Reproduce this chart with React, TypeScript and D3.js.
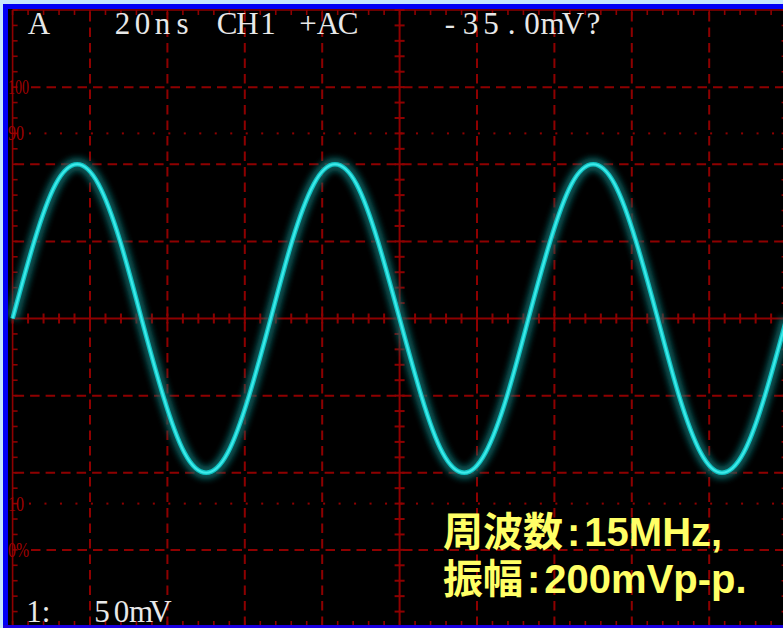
import React from 'react';
import * as d3 from 'd3';

const W = 783;
const H = 628;

// Oscilloscope settings: 20 ns/div × 10 div, 50 mV/div × 8 div
const timeDomain: [number, number] = [0, 200];
const voltDomain: [number, number] = [-200, 200];

// Trace samples (ns, mV)
const sampleTimes = [
  0, 5.6, 11.1, 16.7, 22.2, 27.8, 33.3, 38.9, 44.4, 50, 55.6, 61.1,
  66.7, 72.2, 77.8, 83.3, 88.9, 94.4, 100, 105.6, 111.1, 116.7, 122.2, 127.8,
  133.3, 138.9, 144.4, 150, 155.6, 161.1, 166.7, 172.2, 177.8, 183.3, 188.9, 194.4, 200,
];
const sampleVolts = [
  0, 50, 87, 100, 87, 50, 0, -50, -87, -100, -87, -50,
  0, 50, 87, 100, 87, 50, 0, -50, -87, -100, -87, -50,
  0, 50, 87, 100, 87, 50, 0, -50, -87, -100, -87, -50, 0,
];

const headerLabels = ['A', '20ns', 'CH1', '+AC', '-35.0mV?'];
const footerLabels = ['1:', '50mV'];
const percentLabels = ['100', '90', '10', '0%'];
const percentValues = [100, 90, 10, 0];
const dottedPercents = [90, 10];
const infoLines = ['周波数:15MHz,', '振幅:200mVp-p.'];

const GRID = '#8e0000';

function mono(start: number, n: number, pitch: number): string {
  return d3.range(n).map((i) => (start + i * pitch).toFixed(1)).join(' ');
}

export default function App() {
  const x = d3.scaleLinear().domain(timeDomain).range([12.6, 786.6]);
  const y = d3.scaleLinear().domain(voltDomain).range([627, 10]);
  const pct = d3.scaleLinear().domain([0, 100]).range([-150, 150]);

  const xDivs = d3.range(0, 201, 20);
  const yDivs = d3.range(-200, 201, 50);
  const xMinor = d3.range(0, 200.01, 4);
  const yMinor = d3.range(-200, 200.01, 10);

  const pts = sampleTimes.map((t, i) => [t, sampleVolts[i]] as [number, number]);
  const line = d3
    .line<[number, number]>()
    .x((d) => x(d[0]))
    .y((d) => y(d[1]))
    .curve(d3.curveNatural);
  const trace = line(pts) || '';

  const cx = x(100);
  const cy = y(0);
  const left = x(0);
  const right = x(200);
  const top = y(200);
  const bottom = y(-200);

  const headerFont = { fontFamily: "'Liberation Serif', 'DejaVu Serif', serif", fontSize: 31, fill: '#e8e8e8' };

  return (
    <svg width={W} height={H} style={{ position: 'absolute', left: 0, top: 0, display: 'block' }}>
      <defs>
        <clipPath id="plot">
          <rect x={8} y={9} width={W - 8} height={616} />
        </clipPath>
        <filter id="blur" x="-5%" y="-10%" width="110%" height="120%">
          <feGaussianBlur stdDeviation={3.2} />
        </filter>
      </defs>
      <rect x={0} y={0} width={W} height={H} fill="#000" />
      <rect x={0} y={0} width={W} height={4} fill="#c6e6fb" />
      <rect x={0} y={0} width={3} height={H} fill="#c6e6fb" />
      <rect x={3} y={4} width={W - 3} height={5} fill="#0000f4" />
      <rect x={3} y={4} width={5} height={H - 4} fill="#0000f4" />
      <rect x={3} y={625} width={W - 3} height={3} fill="#1a00e0" />

      <g clipPath="url(#plot)">
        {/* dashed grid */}
        {xDivs.filter((v) => v !== 100 && v !== 0 && v !== 200).map((v) => (
          <line key={'vx' + v} x1={x(v)} x2={x(v)} y1={top} y2={bottom} stroke={GRID} strokeWidth={2}
            strokeDasharray="9.5 6" strokeDashoffset={-2} />
        ))}
        {yDivs.filter((v) => v !== 0 && v !== 200 && v !== -200).map((v) => (
          <line key={'hy' + v} x1={v === 150 || v === -150 ? 29 : left} x2={right} y1={y(v)} y2={y(v)} stroke={GRID}
            strokeWidth={2} strokeDasharray="9.5 6" strokeDashoffset={-2} />
        ))}
        {/* dotted 10% / 90% lines */}
        {dottedPercents.map((p) =>
          d3.range(30, right, 15.48).map((dx) => (
            <rect key={'d' + p + '_' + dx} x={dx - 1} y={y(pct(p)) - 1} width={2} height={2} fill={GRID} />
          ))
        )}
        {/* border */}
        <line x1={left} x2={left} y1={top} y2={bottom} stroke={GRID} strokeWidth={1.6} />
        <line x1={right} x2={right} y1={top} y2={bottom} stroke={GRID} strokeWidth={1.6} />
        <line x1={left} x2={right} y1={top} y2={top} stroke={GRID} strokeWidth={1.6} />
        <line x1={left} x2={right} y1={bottom - 1} y2={bottom - 1} stroke={GRID} strokeWidth={1.6} />
        {/* center axes */}
        <line x1={left} x2={right} y1={cy} y2={cy} stroke={GRID} strokeWidth={2} />
        <line x1={cx} x2={cx} y1={top} y2={bottom} stroke={GRID} strokeWidth={2} />
        {/* minor ticks */}
        {xMinor.map((v) => (
          <g key={'tx' + v}>
            <line x1={x(v)} x2={x(v)} y1={cy - 5} y2={cy + 5} stroke={GRID} strokeWidth={2} />
            <line x1={x(v)} x2={x(v)} y1={top} y2={top + 5} stroke={GRID} strokeWidth={1.6} />
            <line x1={x(v)} x2={x(v)} y1={bottom - 6} y2={bottom - 1} stroke={GRID} strokeWidth={1.6} />
          </g>
        ))}
        {yMinor.map((v) => (
          <g key={'ty' + v}>
            <line x1={cx - 5} x2={cx + 5} y1={y(v)} y2={y(v)} stroke={GRID} strokeWidth={2} />
            <line x1={left} x2={left + 5} y1={y(v)} y2={y(v)} stroke={GRID} strokeWidth={1.6} />
            <line x1={right - 5} x2={right} y1={y(v)} y2={y(v)} stroke={GRID} strokeWidth={1.6} />
          </g>
        ))}

        {/* percent labels */}
        {percentLabels.map((s, i) => (
          <text key={s} x={8} y={y(pct(percentValues[i])) + 7} fontFamily="'Liberation Serif', serif" fontSize={21}
            fill="#a00000" textLength={s.length === 3 || s === '0%' ? 21 : 16} lengthAdjust="spacingAndGlyphs">
            {s}
          </text>
        ))}

        {/* trace */}
        <path d={trace} fill="none" stroke="#0d6a6a" strokeWidth={13} filter="url(#blur)" opacity={0.85} />
        <path d={trace} fill="none" stroke="#10c4c4" strokeWidth={4.6} strokeLinejoin="round" />
        <path d={trace} fill="none" stroke="#3eeaea" strokeWidth={2} strokeLinejoin="round" />
      </g>

      {/* header text */}
      <text {...headerFont} y={34} x={mono(39, 1, 20)} textAnchor="middle">{headerLabels[0]}</text>
      <text {...headerFont} y={34} x={mono(122.5, 4, 20)} textAnchor="middle">{headerLabels[1]}</text>
      <text {...headerFont} y={34} x={mono(227, 3, 20.5)} textAnchor="middle">{headerLabels[2]}</text>
      <text {...headerFont} y={34} x={mono(308, 3, 20)} textAnchor="middle">{headerLabels[3]}</text>
      <text {...headerFont} y={34} x={mono(450, 8, 20.5)} textAnchor="middle">{headerLabels[4]}</text>

      {/* footer text */}
      <text {...headerFont} y={622} x="34 46" textAnchor="middle">{footerLabels[0]}</text>
      <text {...headerFont} y={622} x={mono(102, 4, 19.5)} textAnchor="middle">{footerLabels[1]}</text>

      {/* info text */}
      {infoLines.map((s, i) => {
        const [head, tail] = s.split(':');
        return (
          <text key={s} x={443} y={546 + i * 47} fontFamily="'Liberation Sans', 'Noto Sans CJK JP', sans-serif"
            fontWeight="bold" fontSize={40} fill="#ffff66">
            <tspan>{head}</tspan>
            <tspan dx={4}>:</tspan>
            <tspan dx={4}>{tail}</tspan>
          </text>
        );
      })}
    </svg>
  );
}
